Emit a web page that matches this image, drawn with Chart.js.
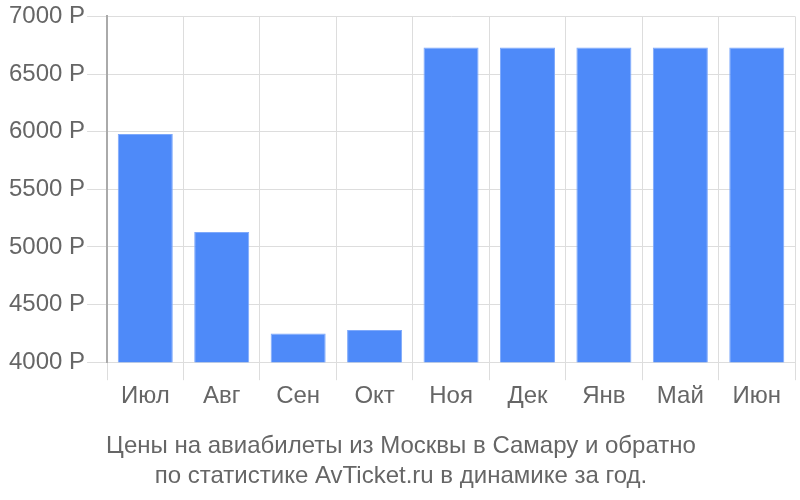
<!DOCTYPE html>
<html>
<head>
<meta charset="utf-8">
<script src="https://cdn.jsdelivr.net/npm/chart.js@4"></script>
<style>
  html, body { margin: 0; padding: 0; background: #fff; }
  #wrap { width: 800px; height: 500px; }
</style>
</head>
<body>
<div id="wrap"><canvas id="Cnvs" width="800" height="500"></canvas></div>
<script>
var months = ['Июл', 'Авг', 'Сен', 'Окт', 'Ноя', 'Дек', 'Янв', 'Май', 'Июн'];
var prices = [5980, 5130, 4250, 4280, 6730, 6730, 6730, 6730, 6730];
var titleLines = ['Цены на авиабилеты из Москвы в Самару и обратно', 'по статистике AvTicket.ru в динамике за год.'];

Chart.defaults.font.family = '"Liberation Sans", Arial, sans-serif';
Chart.defaults.color = '#666';

var priceChart = new Chart(document.getElementById('Cnvs'), {
  type: 'bar',
  data: {
    labels: months,
    datasets: [{
      data: prices,
      backgroundColor: '#4e8af9',
      borderColor: '#7ea9fb',
      borderWidth: 1,
      categoryPercentage: 0.8,
      barPercentage: 0.9
    }]
  },
  options: {
    responsive: false,
    animation: false,
    layout: { padding: { left: 7, right: 5, top: 1, bottom: 9 } },
    plugins: {
      legend: { display: false },
      tooltip: { enabled: false },
      title: {
        display: true,
        position: 'bottom',
        text: titleLines,
        color: '#666',
        font: { size: 24, weight: 'normal', lineHeight: 1.25 },
        padding: { top: 18, bottom: 0 }
      }
    },
    scales: {
      x: {
        grid: { color: '#dddddd', tickLength: 18, offset: true },
        border: { color: '#dddddd' },
        ticks: { font: { size: 24 }, color: '#666', padding: 2 }
      },
      y: {
        min: 4000,
        max: 7000,
        grid: { color: '#dddddd', tickLength: 20 },
        border: { color: '#aaaaaa', width: 2 },
        ticks: {
          stepSize: 500,
          font: { size: 24 },
          color: '#666',
          padding: 2,
          callback: function(v) { return v + ' Р'; }
        }
      }
    }
  }
});
</script>
</body>
</html>
